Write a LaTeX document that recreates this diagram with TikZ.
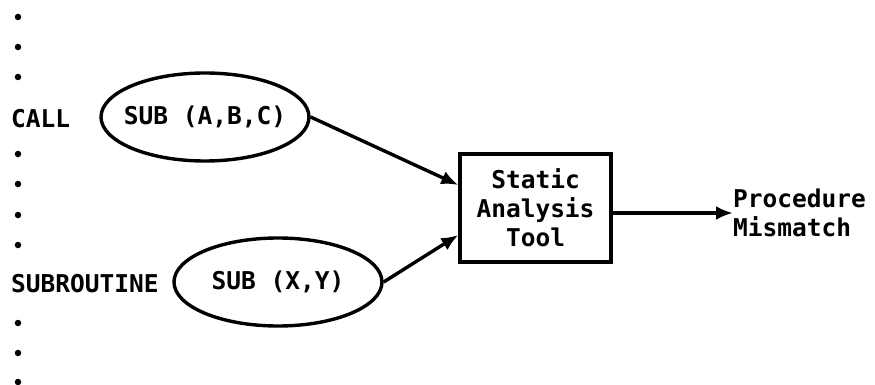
\documentclass[tikz,border=0pt]{standalone}
\usepackage{fontspec}
\setmonofont{DejaVu Sans Mono}
\usetikzlibrary{arrows.meta,shapes.geometric}
\begin{document}
\begin{tikzpicture}[x=1pt,y=-1pt,
  font=\ttfamily\bfseries\fontsize{24.5}{29}\selectfont,
  ln/.style={line width=3.4pt},
  arr/.style={ln,-{Latex[length=17pt,width=14pt]}},
  dotm/.style={circle,fill,inner sep=0pt,minimum size=6.5pt},
  oval/.style={draw,ellipse,ln,inner sep=0pt,minimum width=208pt,minimum height=88pt}]
\useasboundingbox (0,0) rectangle (875,385);
\foreach \y/\n in {17/a,47/b,77/c,154/d,184/e,215/f,245/g,323/h,353/i,382/j}
  \node[dotm] (dot\n) at (18,\y) {};
\node[anchor=west,inner sep=0pt] (call) at (11,119) {CALL};
\node[anchor=west,inner sep=0pt] (subr) at (11,284) {SUBROUTINE};
\node[oval] (e1) at (205,117) {\makebox[0pt]{SUB (A,B,C)}};
\node[oval] (e2) at (278,282) {\makebox[0pt]{SUB (X,Y)}};
\node[draw,ln,minimum width=151pt,minimum height=108pt,align=center,inner sep=0pt] (box) at (535.5,208) {Static\\Analysis\\Tool};
\node[anchor=west,align=left,inner sep=0pt] (out) at (733,213) {Procedure\\Mismatch};
\draw[arr] (e1.east) -- ([yshift=23pt]box.west);
\draw[arr] (e2.east) -- ([yshift=-27pt]box.west);
\draw[arr] (box.east |- out.west) -- (out.west);
\end{tikzpicture}
\end{document}
